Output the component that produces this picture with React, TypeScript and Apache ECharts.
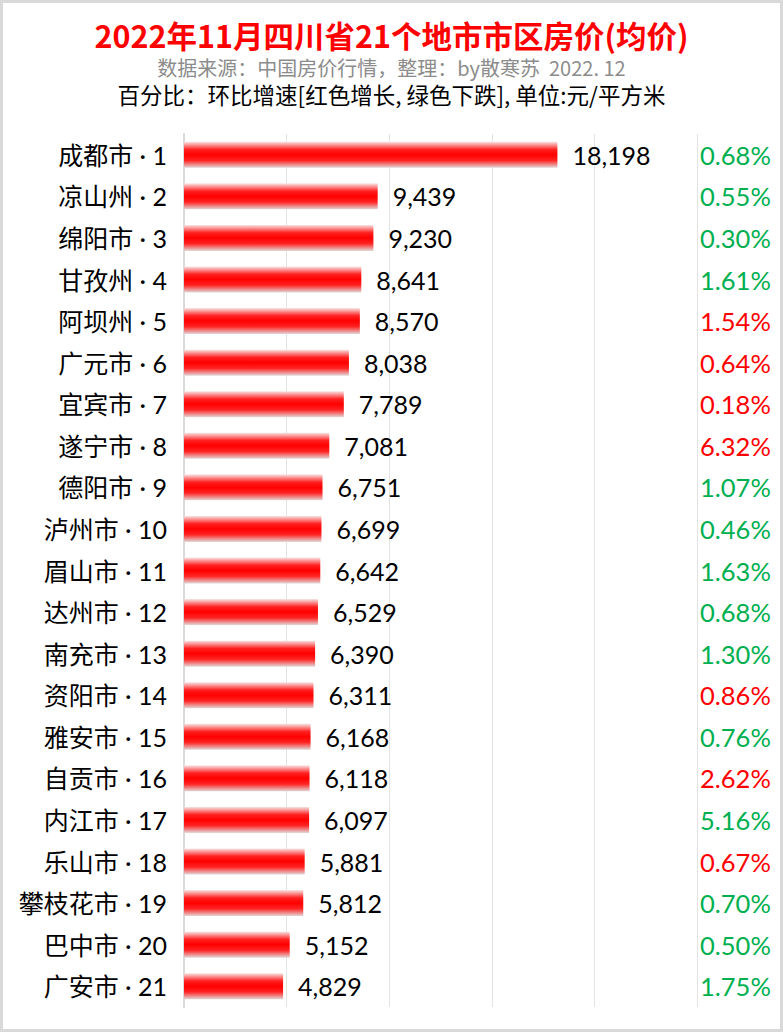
import React, { useEffect, useRef } from "react";
import * as echarts from "echarts";

const cities = ["成都市", "凉山州", "绵阳市", "甘孜州", "阿坝州", "广元市", "宜宾市", "遂宁市", "德阳市", "泸州市", "眉山市", "达州市", "南充市", "资阳市", "雅安市", "自贡市", "内江市", "乐山市", "攀枝花市", "巴中市", "广安市"];
const prices = [18198, 9439, 9230, 8641, 8570, 8038, 7789, 7081, 6751, 6699, 6642, 6529, 6390, 6311, 6168, 6118, 6097, 5881, 5812, 5152, 4829];
const changes = ["0.68%", "0.55%", "0.30%", "1.61%", "1.54%", "0.64%", "0.18%", "6.32%", "1.07%", "0.46%", "1.63%", "0.68%", "1.30%", "0.86%", "0.76%", "2.62%", "5.16%", "0.67%", "0.70%", "0.50%", "1.75%"];
const directions = ["down", "down", "down", "down", "up", "up", "up", "up", "down", "down", "down", "down", "down", "up", "down", "up", "down", "up", "down", "down", "down"];

const titleText = "2022年11月四川省21个地市市区房价(均价)";
const subText = "数据来源：中国房价行情，整理：by散寒苏  2022. 12";
const noteText = "百分比：环比增速[红色增长, 绿色下跌], 单位:元/平方米";

export default function App() {
  const ref = useRef<HTMLDivElement>(null);
  useEffect(() => {
    if (!ref.current) return;
    const chart = echarts.init(ref.current, undefined, { renderer: "svg" });
    const catLabels = cities.map((c, i) => `${c} · ${i + 1}`);
    const pctLabels = changes.map((p, i) => `${directions[i]}|${p}`);
    const font = "Lato, 'Noto Sans CJK SC', sans-serif";
    const cjk = "'Noto Sans CJK SC', sans-serif";
    chart.setOption({
      animation: false,
      backgroundColor: "#ffffff",
      graphic: [
        {
          type: "rect",
          shape: { x: 1.5, y: 1.5, width: 780, height: 1029 },
          style: { fill: "none", stroke: "#d9d9d9", lineWidth: 3 },
          silent: true,
        },
      ],
      title: [
        {
          text: titleText,
          left: "center",
          top: 20,
          padding: 0,
          textStyle: { color: "#ff0000", fontSize: 30.5, lineHeight: 30, fontWeight: "bold", fontFamily: cjk },
        },
        {
          text: subText,
          left: "center",
          top: 57,
          padding: 0,
          textStyle: { color: "#8c8c8c", fontSize: 20, lineHeight: 20, fontWeight: "normal", fontFamily: cjk },
        },
        {
          text: noteText,
          left: "center",
          top: 83,
          padding: 0,
          textStyle: { color: "#000000", fontSize: 22.5, lineHeight: 22, fontWeight: "normal", fontFamily: cjk },
        },
      ],
      grid: { left: 184, right: 86, top: 134, bottom: 25, containLabel: false },
      xAxis: {
        type: "value",
        min: 0,
        max: 25000,
        interval: 5000,
        axisLabel: { show: false },
        axisLine: { show: false },
        axisTick: { show: false },
        splitLine: { show: true, lineStyle: { color: "#e3e3e3", width: 1 } },
      },
      yAxis: [
        {
          type: "category",
          data: catLabels,
          inverse: true,
          axisLine: { show: true, lineStyle: { color: "#d9d9d9", width: 2 } },
          axisTick: { show: false },
          axisLabel: { color: "#000000", fontSize: 25, fontFamily: font, margin: 17 },
        },
        {
          type: "category",
          data: pctLabels,
          inverse: true,
          position: "right",
          axisLine: { show: false },
          axisTick: { show: false },
          axisLabel: {
            margin: 3,
            formatter: (v: string) => {
              const [d, p] = v.split("|");
              return `{${d === "up" ? "r" : "g"}|${p}}`;
            },
            rich: {
              r: { color: "#ff0000", fontSize: 25.5, fontFamily: font },
              g: { color: "#00b050", fontSize: 25.5, fontFamily: font },
            },
          },
        },
      ],
      series: [
        {
          type: "bar",
          data: prices,
          yAxisIndex: 0,
          barWidth: 26,
          itemStyle: {
            color: new echarts.graphic.LinearGradient(0, 0, 0, 1, [
              { offset: 0, color: "#f8e4e4" },
              { offset: 0.3, color: "#ff2020" },
              { offset: 0.5, color: "#ff0000" },
              { offset: 0.72, color: "#ff2424" },
              { offset: 1, color: "#e2d8d8" },
            ]),
          },
          label: {
            show: true,
            position: "right",
            distance: 15,
            color: "#000000",
            fontSize: 25,
            fontFamily: font,
            formatter: (p: any) => Number(p.value).toLocaleString("en-US"),
          },
        },
      ],
    });
    return () => chart.dispose();
  }, []);
  return <div ref={ref} style={{ position: "absolute", left: 0, top: 0, width: 783, height: 1032 }} />;
}
